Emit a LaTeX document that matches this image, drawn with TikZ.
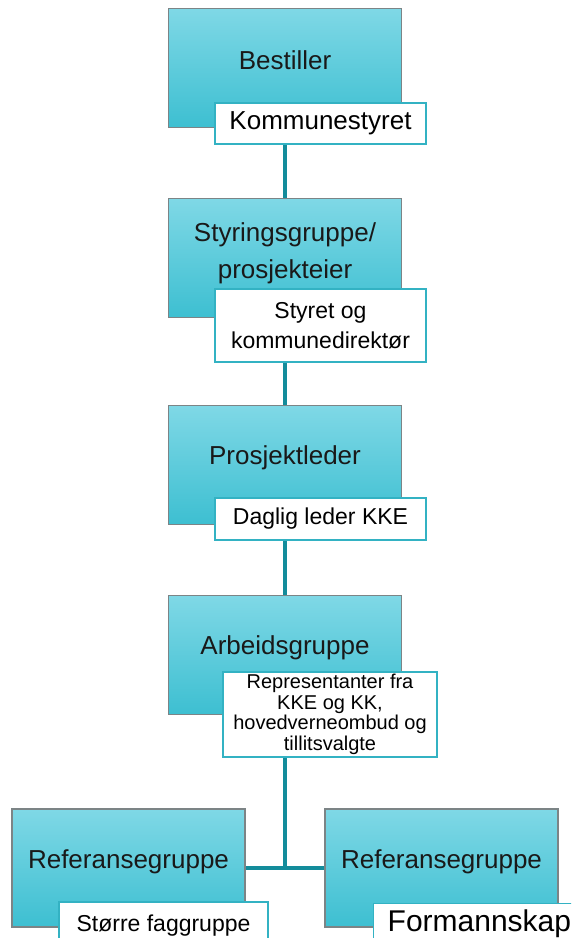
\documentclass[tikz,border=0pt]{standalone}
\usepackage{fontspec}
\setmainfont{Liberation Sans}
\usetikzlibrary{positioning,backgrounds}
\definecolor{boxtop}{HTML}{7FD8E6}
\definecolor{boxbot}{HTML}{3DBFD1}
\definecolor{boxline}{HTML}{7C8486}
\definecolor{tagline}{HTML}{33B2C3}
\definecolor{connc}{HTML}{138C9B}
\begin{document}
\begin{tikzpicture}[x=1pt,y=-1pt,
  orgbox/.style={rectangle,draw=boxline,line width=1.4pt,
                 top color=boxtop,bottom color=boxbot,
                 minimum width=233pt,minimum height=119pt,inner sep=0pt},
  boxtext/.style={align=center,text=black!90,
                  font=\fontsize{26pt}{37pt}\selectfont},
  tagbox/.style={rectangle,draw=tagline,line width=1.4pt,fill=white,
                 align=center,inner sep=0pt,minimum width=211pt,
                 font=\fontsize{23pt}{30pt}\selectfont},
  conn/.style={connc,line width=3.6pt}]

\clip (0,0) rectangle (571,938);

%% ---------- chain ----------
\node[orgbox](best) at (285,68){};
\node[boxtext](bestT) at (285,60){Bestiller};
\node[tagbox,minimum height=41pt,font=\fontsize{26pt}{30pt}\selectfont](bestL)
  at (320.5,123.5){Kommunestyret};

\node[orgbox](styr) at (285,258){};
\node[boxtext](styrT) at (285,253){Styringsgruppe/\\prosjekteier};
\node[tagbox,minimum height=73pt](styrL) at (320.5,325.5){Styret og\\kommunedirektør};

\node[orgbox](leder) at (285,465){};
\node[boxtext](lederT) at (285,458){Prosjektleder};
\node[tagbox,minimum height=42pt](lederL) at (320.5,519){Daglig leder KKE};

\node[orgbox](arb) at (285,655){};
\node[boxtext](arbT) at (285,648){Arbeidsgruppe};
\node[tagbox,minimum width=214pt,minimum height=85pt,
      font=\fontsize{20pt}{20.5pt}\selectfont](arbL) at (330,714.5)
  {Representanter fra\\KKE og KK,\\hovedverneombud og\\tillitsvalgte};

%% ---------- reference groups ----------
\node[orgbox,minimum height=118pt](refL) at (128.5,868){};
\node[boxtext](refLT) at (128.5,862){Referansegruppe};
\node[tagbox,minimum width=209pt,minimum height=48pt](refLL) at (163.5,926)
  {Større faggruppe};

\node[orgbox,minimum height=118pt](refR) at (441.5,868){};
\node[boxtext](refRT) at (441.5,862){Referansegruppe};
\node[tagbox,anchor=north west,text width=200pt,align=left,inner xsep=14pt,
      minimum height=40pt,font=\fontsize{30pt}{32pt}\selectfont](refRL)
  at (373,903){Formannskap};

%% ---------- connectors ----------
\coordinate (split) at (arb.south |- refL.east);
\begin{scope}[on background layer]
  \foreach \a/\b in {best/styr,styr/leder,leder/arb}
    \draw[conn](\a)--(\b);
  \draw[conn](arb.south)--(split);
  \draw[conn](refL.east)--(refR.west);
\end{scope}

\end{tikzpicture}
\end{document}
